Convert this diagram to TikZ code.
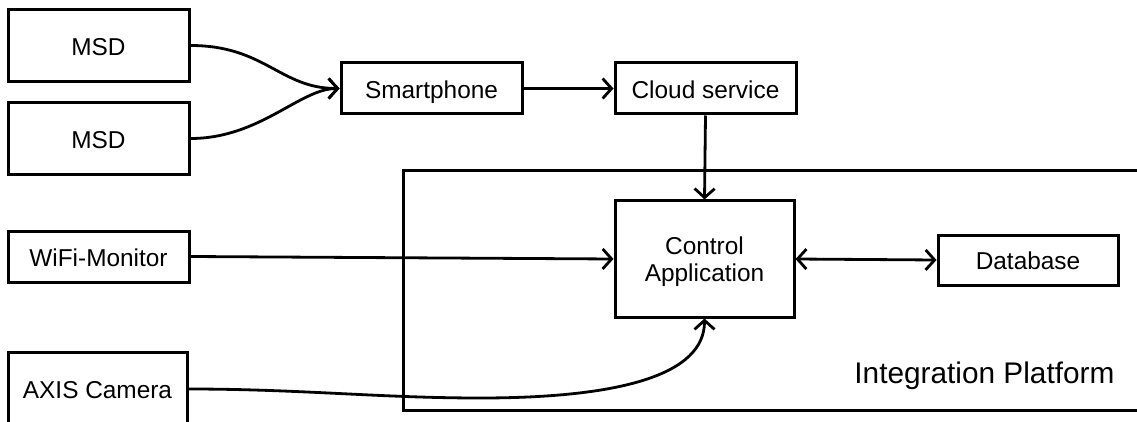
\documentclass[tikz,border=0pt]{standalone}
\usepackage{fontspec}
\setmainfont{Liberation Sans}
\usetikzlibrary{arrows.meta}

\tikzset{
  boxlabel/.style={font=\fontsize{24.4}{27}\selectfont},
  block/.style={draw=black, line width=3pt, fill=white, inner sep=0pt,
                boxlabel, align=center},
  oneline/.style={block, text height=19.5pt, text depth=0pt},
  barb/.style={Straight Barb[length=9pt,width=20pt]},
  link/.style={draw=black, line width=2.8pt, -{Straight Barb[length=9pt,width=20pt]}},
  biglink/.style={draw=black, line width=2.8pt,
               {Straight Barb[length=9pt,width=20pt]}-{Straight Barb[length=9pt,width=20pt]}},
}

\begin{document}
\begin{tikzpicture}[x=1pt, y=-1pt]
  \useasboundingbox (0,0) rectangle (1137,422);
  \clip (0,0) rectangle (1137,422);
  \fill[white] (0,0) rectangle (1137,422);

  % platform frame, open to the right edge
  \draw[line width=3pt] (1160,171) -- (403,171) -- (403,410) -- (1160,410);
  \node[anchor=base east, font=\fontsize{29.8}{34}\selectfont] (platform)
       at (1118,383) {Integration Platform};

  % blocks
  \node[oneline, minimum width=181pt, minimum height=72pt] (msda) at (98.5,45.5) {MSD};
  \node[oneline, minimum width=181pt, minimum height=72pt] (msdb) at (98.5,138.5) {MSD};
  \node[oneline, minimum width=181pt, minimum height=51pt] (wifi) at (98.5,256.5) {WiFi-Monitor};
  \node[oneline, minimum width=179pt, minimum height=74pt] (axis) at (97.5,389) {AXIS Camera};
  \node[oneline, minimum width=181pt, minimum height=51pt] (phone) at (431.5,88.5) {Smartphone};
  \node[oneline, minimum width=181pt, minimum height=51pt] (cloud) at (705.5,88.5) {Cloud service};
  \node[block, minimum width=179pt, minimum height=116pt] (ctrl) at (704.5,259) {};
  \node[boxlabel, align=center, inner sep=0pt] (ctrltext) at (704.5,261.5) {Control\\Application};
  \node[oneline, minimum width=180pt, minimum height=50pt] (db) at (1028,260) {Database};

  % connectors
  \draw[link] (msda.east) .. controls (265,45.5) and (280,88.5) .. (phone.west);
  \draw[link] (msdb.east) .. controls (260,138.5) and (300,88.5) .. (phone.west);
  \draw[link] (phone.east) -- (cloud.west);
  \draw[link] (cloud.south) -- (ctrl.north);
  \draw[link] (wifi.east) -- (ctrl.west);
  \draw[biglink] (ctrl.east) -- (db.west);
  \draw[link] (axis.east) .. controls (300,389) and (380,398) .. (480,398)
              .. controls (620,398) and (704.5,375) .. (ctrl.south);
\end{tikzpicture}
\end{document}
